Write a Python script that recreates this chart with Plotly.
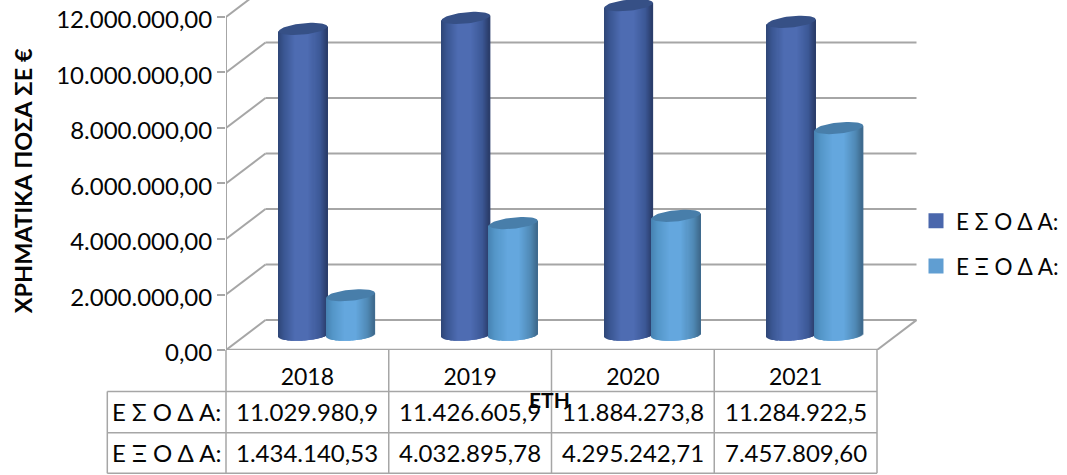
import numpy as np
import plotly.graph_objects as go

categories = ["2018", "2019", "2020", "2021"]
income = [11029980.9, 11426605.9, 11884273.8, 11284922.5]
expense = [1434140.53, 4032895.78, 4295242.71, 7457809.60]
income_labels = ["11.029.980,9", "11.426.605,9", "11.884.273,8", "11.284.922,5"]
expense_labels = ["1.434.140,53", "4.032.895,78", "4.295.242,71", "7.457.809,60"]
income_name = "Ε Σ Ο Δ Α:"
expense_name = "Ε Ξ Ο Δ Α:"
y_ticks = [0, 2000000, 4000000, 6000000, 8000000, 10000000, 12000000]

W, H = 1067, 475
L, R, Y0 = 226.0, 917.0, 350.5
PX_X = 162.75
PX_Y = 333.5 / 12000000
FONT = "Lato, 'Open Sans', sans-serif"
GRID = "#a6a6a6"
TXT = "#050505"


def dx(p):
    return p / PX_X


def dy(p):
    return p / PX_Y


def px(x):
    return (x - L) / (R - L)


def py(y):
    return (Y0 - y) / Y0


DEPTH_X, DEPTH_Y = 39.5, 30.0
CYL_W = 48.5
BASE_LIFT = 15.0
CAP_B, CAP_T = 5.6, 2.4


def shade(stops, t):
    ts = [s[0] for s in stops]
    return "rgb(%d,%d,%d)" % tuple(np.interp(t, ts, [s[1][i] for s in stops]) for i in range(3))


BLUE = [(0, (46, 70, 118)), (0.12, (58, 86, 146)), (0.35, (78, 108, 178)), (0.62, (78, 108, 178)), (0.86, (60, 88, 150)), (1, (42, 60, 105))]
LIGHT = [(0, (70, 130, 178)), (0.14, (84, 150, 200)), (0.38, (100, 167, 222)), (0.62, (100, 167, 222)), (0.86, (80, 138, 182)), (1, (62, 105, 140))]
CAP_BLUE = "rgb(54,80,134)"
CAP_LIGHT = "rgb(72,126,170)"
LEG_BLUE = "rgb(74,103,172)"
LEG_LIGHT = "rgb(96,158,210)"

fig = go.Figure()


def cylinders(values, name, stops, capcolor, legcolor, centre_shift):
    n = 48
    us = (np.arange(n) + 0.5) / n * 2 - 1
    xs, tops, bases, cols = [], [], [], []
    capx, capy = [], []
    th = np.linspace(0, 2 * np.pi, 61)
    for i, v in enumerate(values):
        c = i + 0.5 + dx(DEPTH_X / 2) + dx(centre_shift)
        for u in us:
            s = np.sqrt(1 - u * u)
            low = dy(BASE_LIFT) - dy(CAP_B * s) + dy(1.5 * u)
            high = dy(BASE_LIFT) + v + dy(CAP_T * u)
            xs.append(c + dx(u * CYL_W / 2))
            bases.append(low)
            tops.append(high - low)
            cols.append(shade(stops, (u + 1) / 2))
        capx += list(c + dx(CYL_W / 2) * np.cos(th)) + [None]
        capy += list(dy(BASE_LIFT) + v + dy(CAP_T) * np.cos(th) + dy(CAP_B) * np.sin(th)) + [None]
    fig.add_trace(go.Bar(x=xs, y=tops, base=bases, width=dx(CYL_W / n * 1.5),
                         marker=dict(color=cols, line=dict(width=0)), showlegend=False, hoverinfo="skip"))
    fig.add_trace(go.Scatter(x=capx, y=capy, mode="lines", fill="toself", fillcolor=capcolor,
                             line=dict(width=0), showlegend=False, hoverinfo="skip"))
    fig.add_trace(go.Scatter(x=[None], y=[None], mode="markers", name=name, legendgroup=name,
                             marker=dict(symbol="square", size=15, color=legcolor)))


cylinders(income, income_name, BLUE, CAP_BLUE, LEG_BLUE, -24)
cylinders(expense, expense_name, LIGHT, CAP_LIGHT, LEG_LIGHT, 23.5)

shapes = []


def line(x0, y0, x1, y1, w=2.0, ref="x"):
    shapes.append(dict(type="line", xref=ref, yref="y" if ref == "x" else "paper",
                       x0=x0, y0=y0, x1=x1, y1=y1, layer="below", line=dict(color=GRID, width=w)))


n_cat = len(categories)
for t in y_ticks:
    line(0, t, dx(DEPTH_X), t + dy(DEPTH_Y))
    line(dx(DEPTH_X), t + dy(DEPTH_Y), n_cat + dx(DEPTH_X), t + dy(DEPTH_Y))
line(n_cat, 0, n_cat + dx(DEPTH_X), dy(DEPTH_Y))
line(0, 0, 0, y_ticks[-1])
line(0, 0, n_cat, 0, 2.5)

# data table frame
T_TOP, T_R1, T_R2, T_BOT = 350.5, 392.0, 433.3, 474.0
T_LEFT = 107.3
colx = [L + i * PX_X for i in range(n_cat + 1)]
for x in colx:
    line(px(x), py(T_TOP), px(x), py(T_BOT), 1.5, "paper")
for y in (T_R1, T_R2, T_BOT):
    line(px(T_LEFT), py(y), px(colx[-1]), py(y), 1.5, "paper")
line(px(T_LEFT), py(T_R1), px(T_LEFT), py(T_BOT), 1.5, "paper")

ann = []


def text(x, y, s, size=24, bold=False, angle=0):
    ann.append(dict(xref="paper", yref="paper", x=px(x), y=py(y), text=("<b>%s</b>" % s) if bold else s,
                    showarrow=False, textangle=angle, xanchor="center", yanchor="middle",
                    font=dict(family=FONT, size=size, color=TXT)))


for i in range(n_cat):
    cx = L + (i + 0.5) * PX_X
    text(cx, 412.3, income_labels[i])
    text(cx, 453.3, expense_labels[i])
text((T_LEFT + L) / 2, 412.3, income_name)
text((T_LEFT + L) / 2, 453.3, expense_name)
text(23, 181.5, "ΧΡΗΜΑΤΙΚΑ ΠΟΣΑ ΣΕ €", 23.5, True, -90)
text(549, 400, "ΕΤΗ", 21, True)

fig.update_layout(
    width=W, height=H, margin=dict(l=L, r=W - R, t=0, b=H - Y0, pad=0, autoexpand=False),
    paper_bgcolor="white", plot_bgcolor="white", barmode="overlay", separators=",.",
    font=dict(family=FONT, size=24, color=TXT),
    shapes=shapes, annotations=ann,
    legend=dict(x=px(916), y=py(200), xanchor="left", yanchor="top", bgcolor="rgba(0,0,0,0)",
                font=dict(family=FONT, size=22.5, color=TXT), tracegroupgap=13, traceorder="grouped"),
    xaxis=dict(range=[0, dx(R - L)], tickmode="array", tickvals=[i + 0.5 for i in range(n_cat)],
               ticktext=categories, showgrid=False, zeroline=False, showline=False, tickfont=dict(size=23),
               ticks="outside", ticklen=6, tickcolor="rgba(0,0,0,0)", fixedrange=True),
    yaxis=dict(range=[0, dy(Y0)], tickmode="array", tickvals=y_ticks, tickformat=",.2f",
               showgrid=False, zeroline=False, showline=False, ticks="outside", ticklen=8,
               tickcolor=GRID, tickwidth=2, fixedrange=True, ticklabeloverflow="allow",
               ticklabelshift=3),
)

fig.write_html("out.html", config=dict(displayModeBar=False),
               post_script="document.body.style.margin='0';document.documentElement.style.overflow='hidden';")
